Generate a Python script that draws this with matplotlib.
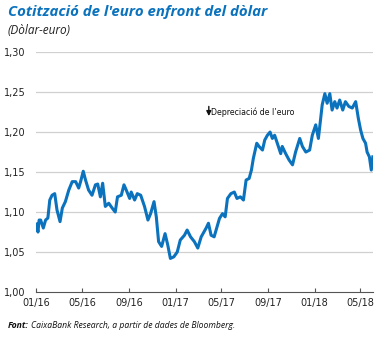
import numpy as np
import matplotlib
matplotlib.use('Agg')
from matplotlib import pyplot as plt
import matplotlib.dates as mdates

# dias desde 01/01/2016 y cotizacion
dias = [0, 4, 7, 11, 18, 24, 30, 35, 41, 48, 54, 62, 68, 76, 85, 94, 103, 111, 116, 123,
        129, 137, 146, 155, 161, 168, 174, 181, 190, 199, 207, 213, 223, 230, 236, 245,
        249, 258, 265, 274, 284, 293, 300, 309, 315, 321, 329, 338, 345, 352, 361, 370,
        378, 389, 396, 405, 415, 424, 433, 446, 452, 459, 467, 481, 489, 496, 502, 511,
        520, 527, 536, 544, 551, 559, 565, 570, 579, 585, 594, 600, 607, 614, 620, 626,
        633, 642, 646, 655, 664, 673, 681, 692, 699, 708, 718, 725, 734, 741, 747, 751,
        758, 764, 771, 777, 784, 790, 797, 805, 812, 821, 830, 839, 846, 852, 858, 865,
        869, 875, 880, 884]
cotizacion = [1.085, 1.075, 1.090, 1.090, 1.080, 1.090, 1.0925, 1.115, 1.121, 1.123, 1.1025,
              1.088, 1.105, 1.113, 1.1275, 1.138, 1.138, 1.130, 1.138, 1.151,
              1.140, 1.1275, 1.121, 1.134, 1.135, 1.119, 1.136, 1.107, 1.111, 1.105, 1.100,
              1.119, 1.121, 1.134, 1.1275, 1.117,
              1.125, 1.115, 1.123, 1.121, 1.107, 1.090, 1.098, 1.113, 1.094, 1.063, 1.057,
              1.073, 1.059, 1.042, 1.044, 1.050,
              1.065, 1.071, 1.0775, 1.069, 1.063, 1.055, 1.069, 1.080, 1.086, 1.071, 1.069,
              1.092, 1.098, 1.094, 1.117, 1.123,
              1.125, 1.117, 1.119, 1.115, 1.140, 1.142, 1.1525, 1.167, 1.186, 1.182, 1.1775,
              1.190, 1.196, 1.200, 1.192, 1.196,
              1.186, 1.173, 1.182, 1.173, 1.165, 1.159, 1.175, 1.192, 1.182, 1.175, 1.1775,
              1.196, 1.209, 1.192, 1.217, 1.234,
              1.248, 1.236, 1.248, 1.2275, 1.238, 1.230, 1.240, 1.2275, 1.238, 1.232, 1.230,
              1.238, 1.217, 1.2025, 1.192, 1.186,
              1.175, 1.169, 1.1525, 1.169]

yticks = [1.00, 1.05, 1.10, 1.15, 1.20, 1.25, 1.30]
ylabels = ['1,00', '1,05', '1,10', '1,15', '1,20', '1,25', '1,30']
xticks = ['2016-01-01', '2016-05-01', '2016-09-01', '2017-01-01',
          '2017-05-01', '2017-09-01', '2018-01-01', '2018-05-01']

fechas = np.datetime64('2016-01-01') + np.array(dias)

azul = '#0b72bd'
estrecha = ['Liberation Sans Narrow', 'Open Sans', 'DejaVu Sans']
fig = plt.figure(figsize=(3.92, 3.38), dpi=100)
ax = fig.add_axes([0.093, 0.136, 0.859, 0.710])

for y in yticks[1:]:
    ax.axhline(y, color='#d0d0d0', lw=0.9, zorder=0)
ax.plot(fechas, cotizacion, color=azul, lw=2.2, solid_joinstyle='round', zorder=3)

ax.set_xlim(np.datetime64('2016-01-01'), np.datetime64('2018-06-04'))
ax.set_ylim(1.0, 1.30)
ax.set_yticks(yticks)
ax.set_yticklabels(ylabels)
ax.set_xticks([np.datetime64(d) for d in xticks])
ax.xaxis.set_major_formatter(mdates.DateFormatter('%m/%y'))

for s in ['top', 'right', 'left']:
    ax.spines[s].set_visible(False)
ax.spines['bottom'].set_color('#555555')
ax.spines['bottom'].set_linewidth(0.8)
ax.tick_params(axis='y', length=0, pad=8, labelsize=7, labelcolor='#222222')
ax.tick_params(axis='x', direction='in', length=3, width=0.8, color='#555555',
               pad=4, labelsize=7, labelcolor='#222222')

# anotacion
ax.annotate('', xy=(np.datetime64('2017-03-29'), 1.2165), xytext=(np.datetime64('2017-03-29'), 1.2355),
            arrowprops=dict(arrowstyle='-|>', color='#111111', lw=1.0, mutation_scale=7))
ax.text(np.datetime64('2017-04-05'), 1.2245, 'Depreciació de l\u2019euro', fontsize=5.7,
        va='center', ha='left', color='#111111')

fig.text(0.02, 0.965, "Cotització de l'euro enfront del dòlar", fontsize=10.8, fontweight='bold',
         style='italic', color=azul, va='center', family=estrecha)
fig.text(0.02, 0.91, '(Dòlar-euro)', fontsize=8.5, style='italic', color='#222222', va='center',
         family=estrecha)
t = fig.text(0.02, 0.038, 'Font:', fontsize=6.2, fontweight='bold', style='italic', color='#111111',
             va='center', family=estrecha)
r = fig.canvas.get_renderer()
x1 = t.get_window_extent(r).x1 / fig.bbox.width
fig.text(x1 + 0.005, 0.038, 'CaixaBank Research, a partir de dades de Bloomberg.', fontsize=6.2,
         style='italic', color='#111111', va='center', family=estrecha)

fig.savefig('out.png', dpi=100)
